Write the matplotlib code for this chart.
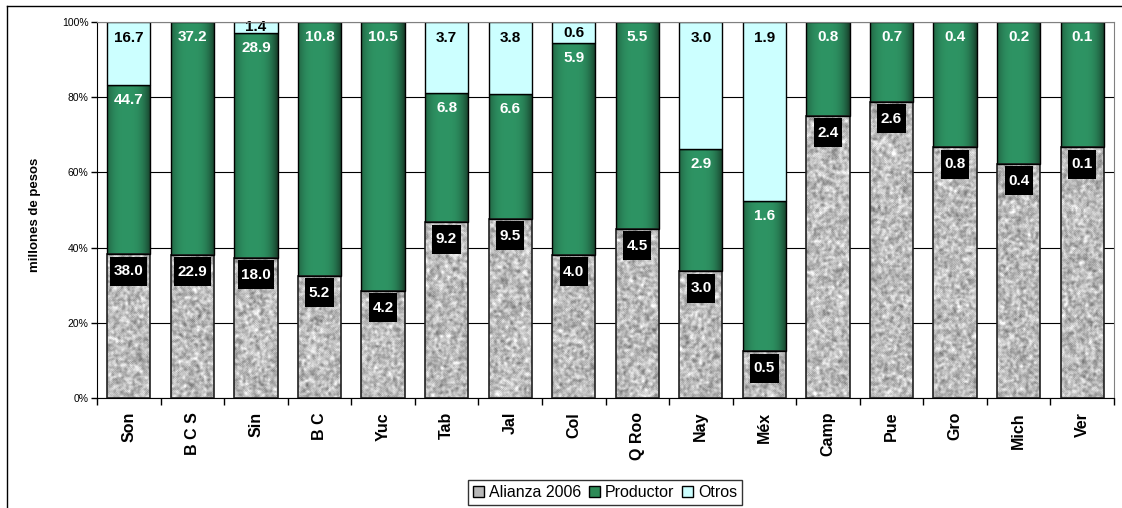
import numpy as np
import matplotlib
matplotlib.use("Agg")
import matplotlib.pyplot as plt
from matplotlib.patches import Patch
from matplotlib.path import Path
from matplotlib.lines import Line2D
from matplotlib.transforms import Affine2D

plt.rcParams['font.family'] = ['Liberation Sans', 'DejaVu Sans']

# data (millones de pesos)
cats = ['Son', 'B C S', 'Sin', 'B C', 'Yuc', 'Tab', 'Jal', 'Col', 'Q Roo',
        'Nay', 'Méx', 'Camp', 'Pue', 'Gro', 'Mich', 'Ver']
alianza = [38.0, 22.9, 18.0, 5.2, 4.2, 9.2, 9.5, 4.0, 4.5, 3.0, 0.5, 2.4, 2.6, 0.8, 0.38, 0.14]
productor = [44.7, 37.2, 28.9, 10.8, 10.5, 6.8, 6.6, 5.9, 5.5, 2.9, 1.6, 0.8, 0.7, 0.4, 0.23, 0.07]
otros = [16.7, 0, 1.4, 0, 0, 3.7, 3.8, 0.6, 0, 3.0, 1.9, 0, 0, 0, 0, 0]

n = len(cats)
a = np.array(alianza)
p = np.array(productor)
o = np.array(otros)
tot = a + p + o
pa = 100 * a / tot
pp = 100 * p / tot
po = 100 * o / tot

W, H = 1122, 508
fig = plt.figure(figsize=(W / 100, H / 100), dpi=100)
ax = fig.add_axes([97 / W, 110 / H, 1017 / W, 376 / H])
px_y = 376 / 100     # pixels per percent

x = np.arange(n)
w = 0.68

# granite-like texture for Alianza
rng = np.random.default_rng(7)


def blur(arr, k):
    out = arr.copy()
    for _ in range(k):
        out = (out + np.roll(out, 1, 0) + np.roll(out, -1, 0)
               + np.roll(out, 1, 1) + np.roll(out, -1, 1)) / 5
    return out


base = blur(rng.random((376, 1017)), 3)
base = (base - base.mean()) / base.std()
fine = blur(rng.random((376, 1017)), 1)
fine = (fine - fine.mean()) / fine.std()
gray = 0.74 + 0.075 * base + 0.03 * fine
gray = np.clip(gray, 0, 1)
tex = np.dstack([gray] * 3)

im = ax.imshow(tex, extent=(-0.5, n - 0.5, 0, 100), aspect='auto',
               interpolation='nearest', zorder=2)
rects = [Path.unit_rectangle().transformed(
    Affine2D().scale(w, pa[i]).translate(x[i] - w / 2, 0)) for i in range(n)]
im.set_clip_path(Path.make_compound_path(*rects), ax.transData)

# shaded green for Productor
t = np.linspace(0, 1, 60)
f = np.clip(1 - np.abs((t - 0.45) / 0.55) ** 3, 0, 1)
dark = np.array([0.09, 0.24, 0.16])
light = np.array([0.18, 0.58, 0.39])
grad = (dark + (light - dark) * f[:, None])[None, :, :]
for i in range(n):
    ax.imshow(grad, extent=(x[i] - w / 2, x[i] + w / 2, pa[i], pa[i] + pp[i]),
              aspect='auto', interpolation='bilinear', zorder=2)

ax.bar(x, pa, w, facecolor='none', edgecolor='#202020', lw=1.2, zorder=3)
ax.bar(x, pp, w, bottom=pa, facecolor='none', edgecolor='black', lw=1, zorder=3)
m = o > 0
ax.bar(x[m], po[m], w, bottom=(pa + pp)[m], facecolor='#ccffff',
       edgecolor='black', lw=1, zorder=3)


def tallbox(x0, y0, width, height, mutation_size):
    padx = 3.5
    h = 29
    cy = y0 + height / 2
    return Path.unit_rectangle().transformed(
        Affine2D().scale(width + 2 * padx, h).translate(x0 - padx, cy - h / 2))


lab = dict(ha='center', va='center', fontsize=11, fontweight='bold', zorder=5)
for i in range(n):
    ax.text(x[i], pa[i] - 17 / px_y, f'{a[i]:.1f}', color='white',
            bbox=dict(boxstyle=tallbox, fc='black', ec='none'), **lab)
    top = pa[i] + pp[i]
    ax.text(x[i], max(top - 15 / px_y, top - pp[i] / 2), f'{p[i]:.1f}',
            color='white', **lab)
    if o[i] > 0:
        ax.text(x[i], max(100 - 16 / px_y, 100 - po[i] / 2), f'{o[i]:.1f}',
                color='black', **lab)

ax.set_xlim(-0.5, n - 0.5)
ax.set_ylim(0, 100)
ax.set_xticks(x, cats, rotation=90, fontweight='bold', fontsize=11.5)
ax.set_xticks(np.arange(-0.5, n), minor=True)
ax.tick_params(axis='x', which='major', length=0, pad=10)
ax.tick_params(axis='x', which='minor', length=5, width=1)
ax.set_yticks(range(0, 101, 20), [f'{v}%' for v in range(0, 101, 20)], fontsize=7.5)
ax.tick_params(axis='y', length=4, width=1, pad=2)
ax.yaxis.grid(True, color='black', lw=0.8)
ax.set_axisbelow(True)
for s in ['left', 'bottom']:
    ax.spines[s].set_color('black')
    ax.spines[s].set_zorder(6)
for s in ['top', 'right']:
    ax.spines[s].set_color('#808080')
    ax.spines[s].set_zorder(6)

fig.text(35 / W, 1 - 215 / H, 'millones de pesos', rotation=90, ha='center',
         va='center', fontsize=9.5, fontweight='bold')

handles = [Patch(fc='#b8b8b8', ec='black'), Patch(fc='#2e8b57', ec='black'),
           Patch(fc='#ccffff', ec='black')]
leg = fig.legend(handles, ['Alianza 2006', 'Productor', 'Otros'], loc='upper center',
                 bbox_to_anchor=(605 / W, 1 - 480 / H), ncol=3, fontsize=11.5,
                 frameon=True, fancybox=False, edgecolor='black',
                 handlelength=0.7, handleheight=0.7, handletextpad=0.3,
                 columnspacing=0.5, borderpad=0.3, borderaxespad=0)
leg.get_frame().set_linewidth(1)

# outer chart border
fig.add_artist(Line2D([6.5 / W, 6.5 / W], [0, 1 - 5.5 / H], color='black', lw=1,
                      transform=fig.transFigure))
fig.add_artist(Line2D([6.5 / W, 1], [1 - 5.5 / H, 1 - 5.5 / H], color='black', lw=1,
                      transform=fig.transFigure))

fig.savefig('out.png', dpi=100)
